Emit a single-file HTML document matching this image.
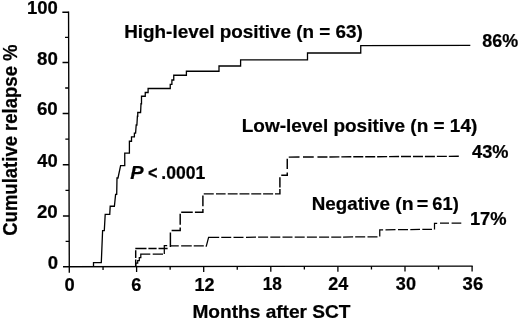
<!DOCTYPE html>
<html lang="en">
<head>
<meta charset="utf-8">
<title>Cumulative relapse after SCT</title>
<style>
html,body{margin:0;padding:0;background:#fff;}
body{width:520px;height:322px;overflow:hidden;}
svg{display:block;filter:grayscale(1);}
svg text{font-family:'Liberation Sans',Arial,Helvetica,sans-serif;font-weight:bold;fill:#000;stroke:#000;stroke-width:0.22px;}
</style>
</head>
<body>
<svg width="520" height="322" viewBox="0 0 520 322">
<rect width="520" height="322" fill="#fff"/>
<path d="M68.55,11.6 L69.3,272.8 M63,266.75 L472.7,266.1" stroke="#000" stroke-width="1.35" fill="none"/>
<path d="M62.35,12.25 H68.55 M62.50,62.5 H68.70 M62.64,113.5 H68.84 M62.79,164.75 H68.99 M62.94,216.0 H69.14 M65.02,37.38 H68.62 M65.17,88.00 H68.77 M65.32,139.12 H68.92 M65.46,190.38 H69.06 M65.61,241.35 H69.21 " stroke="#000" stroke-width="1.3" fill="none"/>
<path d="M103.05,266.64 V269.94 M136.60,266.58 V271.98 M170.15,266.53 V269.83 M203.70,266.48 V271.88 M237.25,266.42 V269.72 M270.80,266.37 V271.77 M304.35,266.32 V269.62 M337.90,266.26 V271.66 M371.45,266.21 V269.51 M405.00,266.16 V271.56 M438.55,266.10 V269.40 M472.10,266.05 V271.45 " stroke="#000" stroke-width="1.3" fill="none"/>
<path d="M93.5,266.5 V262.7 H101.3 L102.6,230.6 H104.3 L105.2,214.4 H109.75 L110.2,206.25 H114.4 L115.6,194.4 H116.7 L117,178 H118 L120.6,165.6 H124.75 V153.1 H129.4 V141.25 H131.5 V136.9 H134.4 V133.1 H135.6 L136.2,125 H136.9 L137.4,116.25 H137.75 V112.5 H140.6 L141,103.75 H141.5 V96.25 H145.25 V92.5 H148.1 V88.5 H170.25 V84.4 H171.9 V80 H173.75 V75.25 H186.4 V71.25 H219 V66 H240.6 V59.9 H307.5 V53 H360.75 V45.7 L470.3,45.3" stroke="#000" stroke-width="1.3" fill="none"/>
<path d="M135.70,266.40 L135.70,259.60 M135.70,257.90 L135.70,250.20 M135.30,248.50 L146.50,248.50 M148.40,248.50 L156.60,248.50 M158.50,248.50 L167.60,248.50 M170.40,246.90 L170.40,232.50 M171.60,230.50 L180.20,230.50 L180.20,227.60 M180.20,224.75 L180.20,213.70 M181.20,212.30 L192.75,212.30 M194.90,212.30 L202.90,212.30 L202.90,209.00 M202.90,206.25 L202.90,195.60 M203.75,193.85 L213.75,193.85 M216.00,193.85 L225.60,193.85 M227.75,193.85 L237.60,193.85 M239.50,193.85 L249.40,193.85 M251.25,193.85 L261.25,193.85 M263.10,193.85 L273.10,193.85 M275.00,193.85 L279.90,193.85 L279.90,189.00 M279.90,187.50 L279.90,177.25 M281.25,175.30 L287.25,175.30 L287.25,172.50 M287.25,169.00 L287.25,158.75 M288.75,157.10 L299.50,157.05 M303.00,157.03 L313.75,156.98 M317.45,156.96 L327.45,156.92 M329.39,156.91 L339.39,156.86 M341.33,156.85 L351.33,156.80 M353.27,156.79 L363.27,156.75 M365.21,156.74 L375.21,156.69 M377.15,156.68 L387.15,156.64 M389.09,156.63 L399.09,156.58 M401.03,156.57 L411.03,156.52 M412.97,156.52 L422.97,156.47 M424.91,156.46 L434.91,156.41 M436.85,156.40 L446.85,156.36 M448.79,156.35 L458.79,156.30" stroke="#000" stroke-width="1.45" fill="none"/>
<path d="M135.70,266.40 L135.70,263.10 L137.70,263.10 L137.70,260.50 L139.30,260.50 L139.30,257.60 L140.80,257.60 L140.80,254.20 L150.30,254.20 M152.70,254.10 L163.00,254.10 M164.30,254.00 L164.30,245.70 L167.20,245.70 M170.50,245.85 L178.75,245.85 M181.15,245.85 L191.75,245.85 M193.70,245.85 L203.80,245.85 M205.60,246.10 L206.30,246.10 L208.60,237.40 L219.20,237.35 M221.25,237.32 L231.25,237.29 M233.50,237.29 L243.50,237.26 M246.00,237.25 L256.00,237.23 M258.10,237.22 L268.10,237.19 M270.30,237.19 L280.30,237.16 M282.50,237.16 L292.50,237.13 M294.70,237.12 L304.70,237.10 M306.90,237.09 L316.90,237.07 M319.10,237.06 L329.10,237.03 M331.25,237.03 L341.25,237.00 M343.10,237.00 L353.10,236.97 M355.20,236.97 L365.20,236.94 M367.50,236.93 L377.50,236.91 M379.75,236.50 L379.75,229.90 L383.10,229.90 M385.50,229.80 L395.50,229.71 M398.00,229.69 L408.00,229.60 M410.30,229.57 L420.00,229.49 M422.30,229.47 L432.00,229.38 M434.50,229.40 L434.50,223.30 L437.20,223.30 M440.00,223.15 L449.00,223.10 M451.60,223.15 L461.30,223.10" stroke="#000" stroke-width="1.25" fill="none"/>
<text x="124.17" y="38" font-size="17.7" textLength="238.72" lengthAdjust="spacingAndGlyphs">High-level positive (n = 63)</text>
<text x="241.77" y="131.75" font-size="17.7" textLength="235.48" lengthAdjust="spacingAndGlyphs">Low-level positive (n = 14)</text>
<text x="311.78" y="209.5" font-size="17.7" textLength="78.24" lengthAdjust="spacingAndGlyphs">Negative</text>
<text x="395.33" y="209.5" font-size="17.7" textLength="18.31" lengthAdjust="spacingAndGlyphs">(n</text>
<text x="416.81" y="209.5" font-size="17.7" textLength="11.56" lengthAdjust="spacingAndGlyphs">=</text>
<text x="432.36" y="209.5" font-size="17.7" textLength="26.36" lengthAdjust="spacingAndGlyphs">61)</text>
<text x="130.20" y="179" font-size="17.7" textLength="13.34" lengthAdjust="spacingAndGlyphs" font-style="italic">P</text>
<text x="147.95" y="179" font-size="17.7" textLength="9.48" lengthAdjust="spacingAndGlyphs">&lt;</text>
<text x="161.26" y="179" font-size="17.7" textLength="43.92" lengthAdjust="spacingAndGlyphs">.0001</text>
<text x="482.26" y="47.3" font-size="17.7" textLength="35.81" lengthAdjust="spacingAndGlyphs">86%</text>
<text x="472.03" y="158.0" font-size="17.7" textLength="36.46" lengthAdjust="spacingAndGlyphs">43%</text>
<text x="469.90" y="224.9" font-size="17.7" textLength="36.69" lengthAdjust="spacingAndGlyphs">17%</text>
<text x="192.46" y="318" font-size="17.7" textLength="158.09" lengthAdjust="spacingAndGlyphs">Months after SCT</text>
<text x="64.57" y="290.75" font-size="17.7" textLength="10.19" lengthAdjust="spacingAndGlyphs">0</text>
<text x="131.36" y="290.63" font-size="17.7" textLength="10.09" lengthAdjust="spacingAndGlyphs">6</text>
<text x="194.52" y="290.52" font-size="17.7" textLength="20.04" lengthAdjust="spacingAndGlyphs">12</text>
<text x="262.76" y="290.4" font-size="17.7" textLength="19.19" lengthAdjust="spacingAndGlyphs">18</text>
<text x="328.17" y="290.29" font-size="17.7" textLength="19.96" lengthAdjust="spacingAndGlyphs">24</text>
<text x="395.85" y="290.17" font-size="17.7" textLength="20.12" lengthAdjust="spacingAndGlyphs">30</text>
<text x="462.64" y="290.05" font-size="17.7" textLength="20.55" lengthAdjust="spacingAndGlyphs">36</text>
<text x="26.99" y="14.1" font-size="17.7" textLength="30.81" lengthAdjust="spacingAndGlyphs">100</text>
<text x="37.04" y="64.8" font-size="17.7" textLength="20.75" lengthAdjust="spacingAndGlyphs">80</text>
<text x="36.94" y="115.4" font-size="17.7" textLength="20.85" lengthAdjust="spacingAndGlyphs">60</text>
<text x="37.32" y="167.0" font-size="17.7" textLength="20.45" lengthAdjust="spacingAndGlyphs">40</text>
<text x="36.94" y="218.3" font-size="17.7" textLength="20.85" lengthAdjust="spacingAndGlyphs">20</text>
<text x="47.86" y="268.6" font-size="17.7" textLength="10.30" lengthAdjust="spacingAndGlyphs">0</text>
<text transform="translate(16.7,235.74) rotate(-90)" font-size="19.3" textLength="191.26" lengthAdjust="spacingAndGlyphs">Cumulative relapse %</text>
</svg>
</body>
</html>
